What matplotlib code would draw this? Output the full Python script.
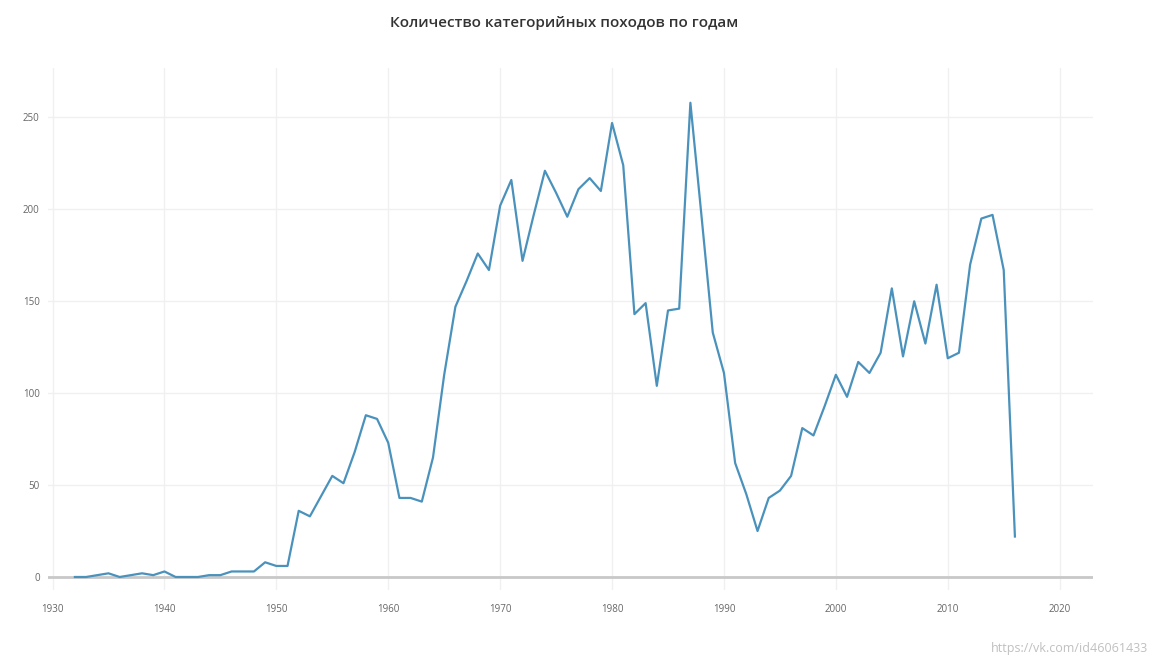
import numpy as np
import matplotlib.pyplot as plt

# years and number of category hikes
years = list(range(1932, 2017))
counts = [
    0, 0, 1, 2, 0, 1, 2, 1, 3,          # 1932-1940
    0, 0, 0, 1, 1, 3, 3, 3, 8,          # 1941-1949
    6, 6, 36, 33, 44, 55, 51, 68, 88, 86,  # 1950-1959
    73, 43, 43, 41, 65, 110, 147, 161, 176, 167,  # 1960-1969
    202, 216, 172, 197, 221, 209, 196, 211, 217, 210,  # 1970-1979
    247, 224, 143, 149, 104, 145, 146, 258, 196, 133,  # 1980-1989
    111, 62, 45, 25, 43, 47, 55, 81, 77, 93,  # 1990-1999
    110, 98, 117, 111, 122, 157, 120, 150, 127, 159,  # 2000-2009
    119, 122, 170, 195, 197, 167, 22,  # 2010-2016
]
xticks = [1930, 1940, 1950, 1960, 1970, 1980, 1990, 2000, 2010, 2020]
yticks = [0, 50, 100, 150, 200, 250]

title = 'Количество категорийных походов по годам'
watermark = 'https://vk.com/id46061433'

plt.rcParams['font.family'] = ['Open Sans', 'DejaVu Sans']

fig = plt.figure(figsize=(11.52, 6.65), dpi=100)
ax = fig.add_axes([0.0417, 0.113, 0.9073, 0.785])

ax.plot(years, counts, color='#4a92bc', lw=1.6, zorder=3)
ax.axhline(0, color='#c8c8c8', lw=2, zorder=2)

ax.set_xlim(1929.6, 2023)
ax.set_ylim(-7, 277)
ax.set_xticks(xticks)
ax.set_yticks(yticks)
ax.grid(True, color='#f0f0f0', lw=1)
ax.set_axisbelow(True)
for s in ax.spines.values():
    s.set_visible(False)
ax.tick_params(length=0, labelsize=7, colors='#666666', pad=10)
ax.tick_params(axis='y', pad=6)

fig.text(0.49, 0.965, title, ha='center', va='center', fontsize=11,
         color='#333333', fontweight='semibold')
fig.text(0.997, 0.025, watermark, ha='right', va='center', fontsize=9,
         color='#c0c0c0')

fig.savefig('out.png', dpi=100, facecolor='white')
